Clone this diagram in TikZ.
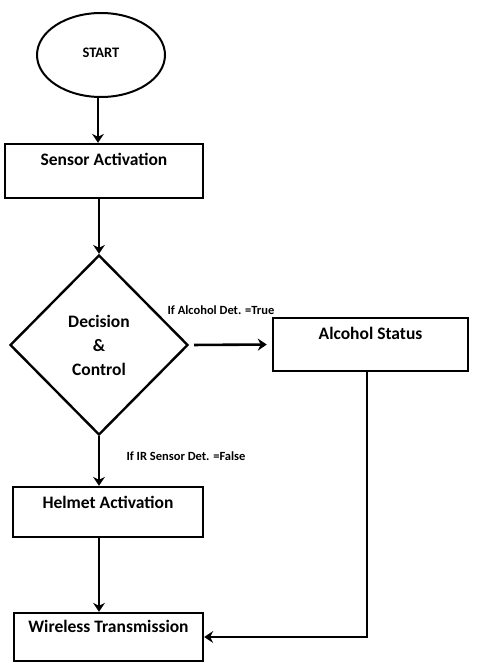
\documentclass[tikz,border=0pt]{standalone}
\usepackage{fontspec}
\setmainfont{Carlito}
\usetikzlibrary{shapes.geometric,arrows.meta}
\begin{document}
\begin{tikzpicture}[x=1pt,y=-1pt,
  every node/.style={font=\bfseries},
  boxnode/.style={draw,line width=2.4pt,inner sep=0pt,font=\bfseries\fontsize{17.5}{20}\selectfont},
  lbl/.style={font=\bfseries\fontsize{12.5}{14}\selectfont,inner sep=0pt},
  arr/.style={line width=2.6pt,-{Stealth[length=9pt,width=12pt,inset=3pt]}}]
\useasboundingbox (0,0) rectangle (477,663);
\node[draw,ellipse,line width=2pt,minimum width=128pt,minimum height=84pt,inner sep=0pt,
  font=\bfseries\fontsize{14.5}{16}\selectfont] (start) at (101,55) {\raisebox{5pt}{START}};
\node[boxnode,minimum width=198pt,text height=21pt,text depth=33pt] (sensor) at (104,171) {Sensor Activation};
\node[draw,diamond,line width=2.4pt,minimum width=178pt,minimum height=180pt,inner sep=0pt,
  align=center,font=\bfseries\fontsize{17.5}{24}\selectfont] (dec) at (99,345) {Decision\\\&\\Control};
\node[boxnode,minimum width=195pt,text height=21pt,text depth=32pt] (alc) at (370.5,344.5) {Alcohol Status};
\node[boxnode,minimum width=190pt,text height=21pt,text depth=29pt] (helm) at (108,512) {Helmet Activation};
\node[boxnode,minimum width=189pt,text height=19pt,text depth=29pt] (wire) at (108.5,637) {Wireless Transmission};
\node[lbl] (lt) at (221,310) {If Alcohol Det. =True};
\node[lbl] (lf) at (186,456) {If IR Sensor Det. =False};
\draw[arr] (start.south -| 98,0) -- (sensor.north -| 98,0);
\draw[arr] (dec.north |- sensor.south) -- (dec.north);
\draw[arr,shorten <=5pt,shorten >=5pt] (dec.east) -- (alc.west);
\draw[arr] (dec.south) -- (dec.south |- helm.north);
\draw[arr] (dec.south |- helm.south) -- (dec.south |- wire.north);
\draw[arr] (alc.south -| 367,0) |- (wire.east);
\end{tikzpicture}
\end{document}
